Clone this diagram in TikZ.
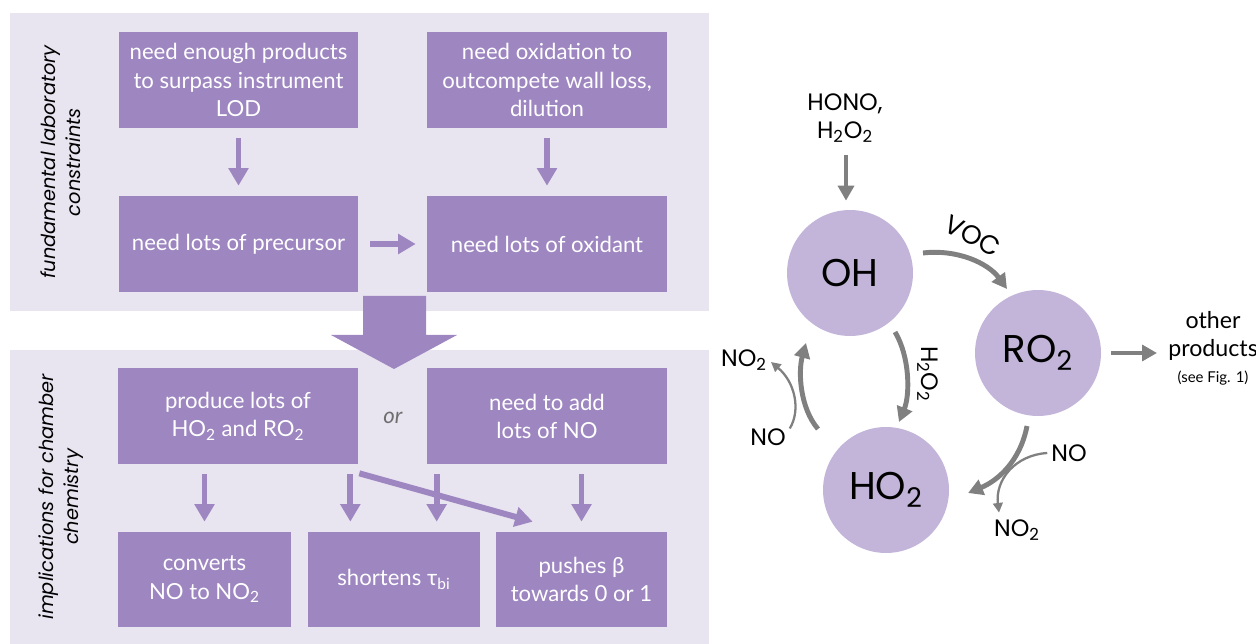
\documentclass[tikz,border=0pt]{standalone}
\usepackage{fontspec}
\setmainfont{Lato}
\newfontfamily\geo{Poppins}
\usetikzlibrary{arrows.meta,calc}
\definecolor{panel}{RGB}{232,228,240}
\definecolor{boxc}{RGB}{158,134,193}
\definecolor{circc}{RGB}{195,181,217}
\definecolor{arrg}{RGB}{128,128,128}
\definecolor{ortext}{RGB}{110,110,110}
\begin{document}
\begin{tikzpicture}[x=0.02cm,y=-0.02cm,
  pbox/.style={fill=boxc, text=white, align=center, inner sep=0pt,
    font=\fontsize{12.6}{16}\selectfont, minimum width=4.8cm, minimum height=1.92cm},
  sbox/.style={pbox, minimum width=3.44cm, minimum height=1.9cm},
  parr/.style={draw=boxc, line width=3.4pt, -{Triangle[width=11pt,length=10pt]}},
  garr/.style={draw=arrg, line width=2.8pt, -{Triangle[width=9pt,length=8.5pt]}},
  tarr/.style={draw=arrg, line width=1.3pt, -{Triangle[width=5.5pt,length=5.5pt]}},
  chem/.style={font=\geo\fontsize{22}{24}\selectfont, fill=circc, circle, minimum size=2.52cm, inner sep=0pt},
  lab/.style={font=\geo\fontsize{13.5}{16}\selectfont, align=center, inner sep=1pt},
  side/.style={font=\geo\itshape\fontsize{11}{14}\selectfont, align=center, rotate=90}
]
\useasboundingbox (0,0) rectangle (1256,644);
% panels
\fill[panel] (10,13) rectangle (709,311);
\fill[panel] (10,350) rectangle (709,644);
\node[side] (s1) at (61,162) {fundamental laboratory\\constraints};
\node[side] (s2) at (61,497) {implications for chamber\\chemistry};
% top boxes
\node[pbox] (A) at (238.5,80) {need enough products\\to surpass instrument\\LOD};
\node[pbox] (B) at (547,80) {need oxidation to\\outcompete wall loss,\\dilution};
\node[pbox] (C) at (238.5,244) {need lots of precursor};
\node[pbox] (D) at (547,244) {need lots of oxidant};
\draw[parr, shorten <=0.2cm, shorten >=0.2cm] (A) -- (C);
\draw[parr, shorten <=0.2cm, shorten >=0.2cm] (B) -- (D);
\draw[parr, shorten <=0.23cm, shorten >=0.22cm] (C) -- (D);
% big arrow
\fill[boxc] (363,296) -- (426,296) -- (426,335) -- (457,335) -- (394,369) -- (331,335) -- (363,335) -- cycle;
% bottom boxes
\node[pbox] (E) at (238,416) {produce lots of\\HO\textsubscript{2} and RO\textsubscript{2}};
\node[pbox] (F) at (547,416) {need to add\\lots of NO};
\node[font=\itshape\fontsize{12.6}{14}\selectfont, text=ortext] (or) at (393,418) {or};
\node[sbox, minimum width=3.46cm] (G) at (204.5,579.5) {converts\\NO to NO\textsubscript{2}};
\node[sbox, minimum width=3.44cm] (H) at (394,579.5) {shortens τ\textsubscript{bi}};
\node[sbox, minimum width=3.42cm] (I) at (581.5,579.5) {pushes β\\towards 0 or 1};
\draw[parr] ($(G.north |- E.south)+(0,10)$) -- ($(G.north)+(0,-10)$);
\draw[parr] ($(E.south east)+(-8,10)$) -- ($(E.south east |- H.north)+(-8,-10)$);
\draw[parr] ($(F.south west)+(10,10)$) -- ($(F.south west |- H.north)+(10,-10)$);
\draw[parr] ($(I.north |- F.south)+(0,10)$) -- ($(I.north)+(0,-10)$);
\draw[parr] ($(E.south east)+(1,9)$) -- ($(I.north west)+(37,-10)$);
% chemistry cycle
\node[chem] (OH) at (850,273) {OH};
\node[chem] (RO) at (1038,353) {RO\textsubscript{2}};
\node[chem] (HO) at (886,490) {HO\textsubscript{2}};
\node[lab] (src) at (845,118) {HONO,\\H\textsubscript{2}O\textsubscript{2}};
\draw[garr] (846,155) -- ($(OH.north)+(-4,-9)$);
\coordinate (v1) at (923,253);
\coordinate (v2) at (1007,289);
\draw[garr] (v1) .. controls (957,249) and (988,263) .. (v2);
\node[rotate=-27, font=\geo\fontsize{15}{17}\selectfont, inner sep=0pt] (voc) at (973,236) {VOC};
\node[lab, font=\fontsize{13.2}{16}\selectfont] (oth) at (1213,336) {other\\products};
\node[font=\fontsize{8.5}{9}\selectfont, inner sep=0pt] (fig) at (1213,378) {(see Fig. 1)};
\draw[garr] ($(RO.east)+(10,0)$) -- (1157,353);
% OH -> HO2 via H2O2
\coordinate (h1) at (895,332);
\coordinate (h2) at (899,422);
\draw[garr] (h1) .. controls (910,357) and (910,395) .. (h2);
\node[lab, rotate=-90] (h2o2) at (928,374) {H\textsubscript{2}O\textsubscript{2}};
% HO2 -> OH via NO
\coordinate (l1) at (818,429);
\coordinate (l2) at (806,343);
\draw[garr] (l1) .. controls (800,408) and (798,372) .. (l2);
\node[lab] (noL) at (768,437) {NO};
\node[lab] (no2L) at (744,360) {NO\textsubscript{2}};
\draw[tarr] ($(noL.north east)+(2,2)$) .. controls (801,410) and (795,382) .. ($(no2L.east)+(2,2)$);
% RO2 -> HO2 via NO
\coordinate (r1) at (1027,426);
\coordinate (r2) at (968,493);
\draw[garr] (r1) .. controls (1020,462) and (997,481) .. (r2);
\node[lab] (noR) at (1069,453) {NO};
\node[lab] (no2R) at (1017,530) {NO\textsubscript{2}};
\draw[tarr] ($(noR.west)+(-2,0)$) .. controls (1015,455) and (995,480) .. ($(no2R.north)+(-18,-5)$);
\end{tikzpicture}
\end{document}
